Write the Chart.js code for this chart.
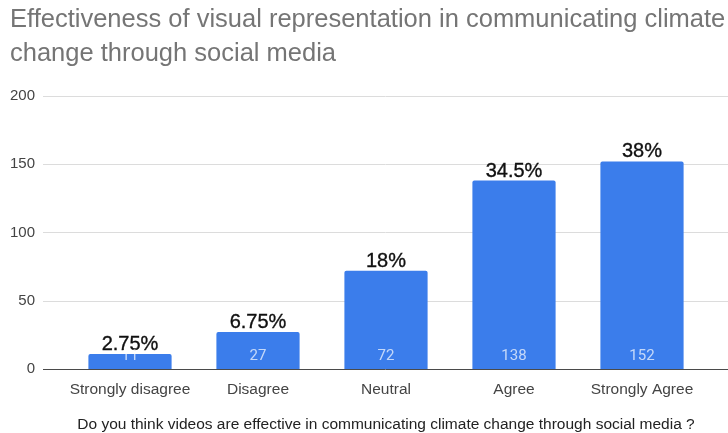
<!DOCTYPE html>
<html>
<head>
<meta charset="utf-8">
<script src="https://cdn.jsdelivr.net/npm/chart.js@4"></script>
<style>
    html, body { margin: 0; padding: 0; background: #fff; }
    #wrap { width: 728px; height: 433px; }
</style>
</head>
<body>
<div id="wrap"><canvas id="surveyChart"></canvas></div>
<script>
const categories = ['Strongly disagree', 'Disagree', 'Neutral', 'Agree', 'Strongly Agree'];
const counts = [11, 27, 72, 138, 152];
const percentLabels = ['2.75%', '6.75%', '18%', '34.5%', '38%'];
const yTicks = [0, 50, 100, 150, 200];

const barColor = '#3b7deb';

// horizontal grid lines run past the plot area like in sheets
const gridPlugin = {
    id: 'wideGrid',
    beforeDatasetsDraw(chart) {
        const ctx = chart.ctx;
        const y = chart.scales.y;
        ctx.save();
        yTicks.forEach(v => {
            const py = Math.round(y.getPixelForValue(v)) + 0.5;
            ctx.strokeStyle = v === 0 ? '#4a4a4a' : '#dcdcdc';
            ctx.lineWidth = 1;
            ctx.beginPath();
            ctx.moveTo(43, py);
            ctx.lineTo(chart.width, py);
            ctx.stroke();
        });
        ctx.restore();
    }
};

const labelPlugin = {
    id: 'barLabels',
    afterDatasetsDraw(chart) {
        const ctx = chart.ctx;
        const meta = chart.getDatasetMeta(0);
        const base = chart.scales.y.getPixelForValue(0);
        ctx.save();
        ctx.textAlign = 'center';
        ctx.textBaseline = 'alphabetic';
        meta.data.forEach((bar, i) => {
            ctx.font = '20px "Liberation Sans", Arial, sans-serif';
            ctx.fillStyle = '#111';
            ctx.strokeStyle = '#111';
            ctx.lineWidth = 0.35;
            ctx.fillText(percentLabels[i], bar.x, bar.y - 4);
            ctx.strokeText(percentLabels[i], bar.x, bar.y - 4);

            ctx.font = '15px Roboto, Arial, sans-serif';
            ctx.fillStyle = 'rgba(255,255,255,0.7)';
            ctx.fillText(String(counts[i]), bar.x, base - 9);
        });
        ctx.restore();
    }
};

new Chart(document.getElementById('surveyChart'), {
    type: 'bar',
    data: {
        labels: categories,
        datasets: [{
            label: 'Responses',
            data: counts,
            backgroundColor: barColor,
            borderRadius: { topLeft: 2, topRight: 2 },
            borderSkipped: 'bottom',
            barPercentage: 0.65,
            categoryPercentage: 1
        }]
    },
    options: {
        responsive: true,
        maintainAspectRatio: false,
        animation: false,
        layout: {
            padding: { left: 10, right: 0, top: 0, bottom: 0 }
        },
        plugins: {
            legend: { display: false },
            tooltip: { enabled: false },
            title: {
                display: true,
                text: ['Effectiveness of visual representation in communicating climate', 'change through social media'],
                align: 'start',
                color: '#757575',
                font: { family: '"Liberation Sans", Arial, sans-serif', size: 25.5, weight: 'normal', lineHeight: 1.33 },
                padding: { top: 3, bottom: 25 }
            }
        },
        scales: {
            x: {
                grid: { display: false },
                border: { display: false },
                ticks: {
                    color: '#444',
                    padding: 3,
                    maxRotation: 0,
                    font: { family: '"Liberation Sans", Arial, sans-serif', size: 15.5 }
                },
                title: {
                    display: true,
                    text: 'Do you think videos are effective in communicating climate change through social media ?',
                    color: '#222',
                    font: { family: '"Liberation Sans", Arial, sans-serif', size: 15.5, lineHeight: 1 },
                    padding: { top: 0, bottom: 1 }
                },
                afterFit: s => { s.height = 64; }
            },
            y: {
                min: 0,
                max: 200,
                grid: { display: false, drawTicks: false },
                border: { display: false },
                ticks: {
                    stepSize: 50,
                    color: '#444',
                    padding: 31,
                    font: { family: '"Liberation Sans", Arial, sans-serif', size: 15 }
                },
                afterFit: s => { s.width = 56; }
            },
            yRight: {
                position: 'right',
                min: 0,
                max: 200,
                grid: { display: false, drawTicks: false },
                border: { display: false },
                ticks: { display: false },
                afterFit: s => { s.width = 22; }
            }
        }
    },
    plugins: [gridPlugin, labelPlugin]
});
</script>
</body>
</html>
